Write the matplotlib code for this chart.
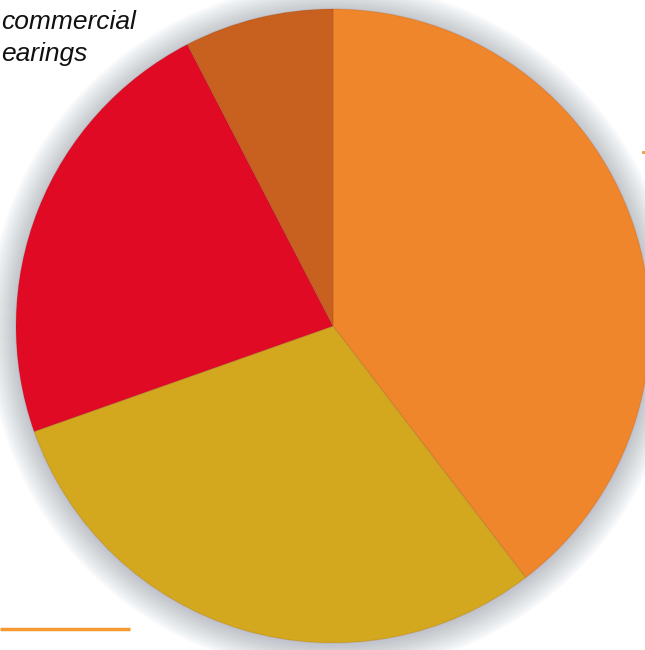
import numpy as np
import matplotlib.pyplot as plt
from matplotlib.patches import Circle

# slice shares, clockwise from 12 o'clock
shares = [39.6, 30.0, 22.8, 7.6]
colors = ['#F0862C', '#D3A81F', '#E00A24', '#C8601F']
label_lines = ['commercial', 'earings']

W, H = 645, 650
fig = plt.figure(figsize=(W / 100, H / 100), dpi=100)
ax = fig.add_axes([0, 0, 1, 1])

cx, cy, r = 333, H - 326, 317

# soft shadow round the pie
for k in range(28, 0, -1):
    ax.add_patch(Circle((cx, cy - 2), r + k, color='#8a93a2',
                        alpha=0.02, lw=0, zorder=0))

wedges, _ = ax.pie(shares, colors=colors, startangle=90, counterclock=False,
                   center=(cx, cy), radius=r,
                   wedgeprops=dict(linewidth=1.0, edgecolor=(0.45, 0.2, 0.05, 0.12)))
for w in wedges:
    w.set_zorder(2)

ax.set_xlim(0, W)
ax.set_ylim(0, H)
ax.set_aspect('equal')
ax.axis('off')

# caption, top left
ax.text(1, H - 29, label_lines[0], fontsize=19, style='italic',
        family='Liberation Sans', color='#111111', va='baseline', zorder=5)
ax.text(1, H - 61, label_lines[1], fontsize=19, style='italic',
        family='Liberation Sans', color='#111111', va='baseline', zorder=5)

# orange rule bottom left
ax.plot([0, 130], [H - 629, H - 629], color='#F59A33', lw=2.5,
        solid_capstyle='butt', zorder=5)
ax.plot([643, 646], [H - 152, H - 152], color='#F59A33', lw=2, zorder=5)

fig.savefig('out.png', dpi=100)
